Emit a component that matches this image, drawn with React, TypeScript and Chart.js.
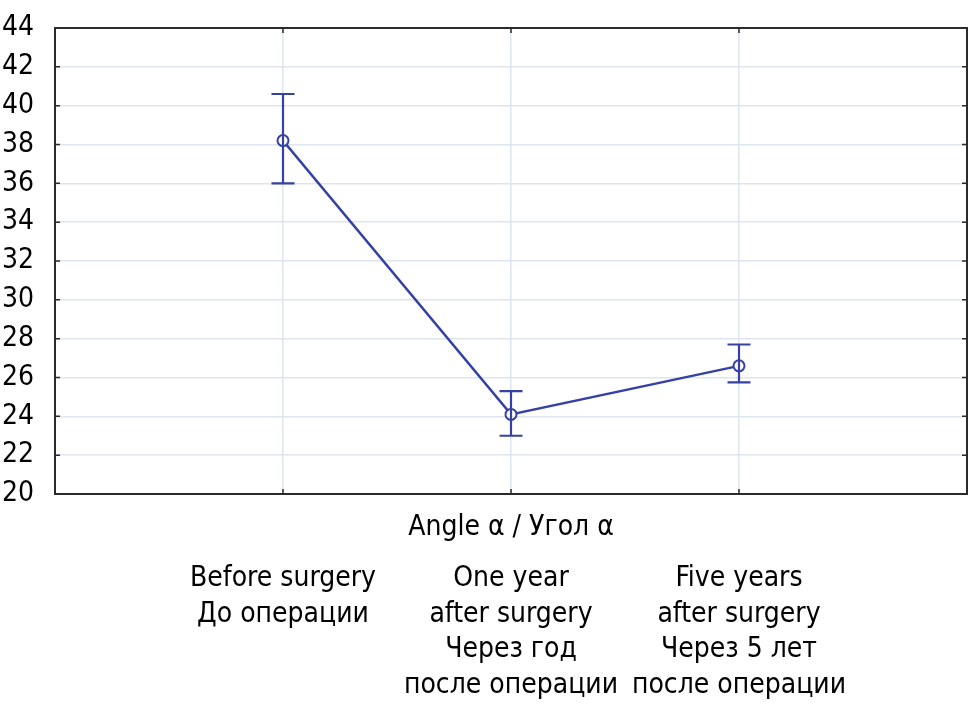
import React, { useEffect, useRef } from "react";
import { Chart, registerables } from "chart.js";

Chart.register(...registerables);

const categories: string[][] = [
  ["Before surgery", "До операции"],
  ["One year", "after surgery", "Через год", "после операции"],
  ["Five years", "after surgery", "Через 5 лет", "после операции"],
];
const categoryPositions = [1, 2, 3];
const means = [38.2, 24.1, 26.6];
const lower = [36.0, 23.0, 25.75];
const upper = [40.6, 25.3, 27.7];
const yTicks = [20, 22, 24, 26, 28, 30, 32, 34, 36, 38, 40, 42, 44];
const axisTitle = "Angle α / Угол α";

const FONT = '"DejaVu Sans Condensed", "DejaVu Sans", sans-serif';
const BLUE = "#3541a3";

export default function App() {
  const ref = useRef<HTMLCanvasElement | null>(null);
  useEffect(() => {
    if (!ref.current) return;
    const extras = {
      id: "extras",
      beforeDatasetsDraw(chart: any) {
        const { ctx, chartArea: a } = chart;
        const ys = chart.scales.y;
        const xs = chart.scales.x;
        ctx.save();
        ctx.strokeStyle = "#2b2b2b";
        ctx.lineWidth = 2;
        ctx.strokeRect(a.left, a.top, a.right - a.left, a.bottom - a.top);
        ctx.lineWidth = 1.5;
        ctx.beginPath();
        yTicks.forEach((v) => {
          const y = ys.getPixelForValue(v);
          ctx.moveTo(a.left, y);
          ctx.lineTo(a.left + 5, y);
          ctx.moveTo(a.right, y);
          ctx.lineTo(a.right - 5, y);
        });
        categoryPositions.forEach((v) => {
          const x = xs.getPixelForValue(v);
          ctx.moveTo(x, a.top);
          ctx.lineTo(x, a.top + 5);
          ctx.moveTo(x, a.bottom);
          ctx.lineTo(x, a.bottom - 5);
        });
        ctx.stroke();
        ctx.restore();
      },
      afterDatasetsDraw(chart: any) {
        const { ctx, chartArea: a } = chart;
        const ys = chart.scales.y;
        const xs = chart.scales.x;
        ctx.save();
        ctx.strokeStyle = BLUE;
        ctx.lineWidth = 2.2;
        ctx.beginPath();
        categoryPositions.forEach((v, i) => {
          const x = xs.getPixelForValue(v);
          const yl = ys.getPixelForValue(lower[i]);
          const yu = ys.getPixelForValue(upper[i]);
          ctx.moveTo(x, yl);
          ctx.lineTo(x, yu);
          ctx.moveTo(x - 11.5, yl);
          ctx.lineTo(x + 11.5, yl);
          ctx.moveTo(x - 11.5, yu);
          ctx.lineTo(x + 11.5, yu);
        });
        ctx.stroke();
        ctx.fillStyle = "#000";
        ctx.font = `28px ${FONT}`;
        ctx.textAlign = "center";
        ctx.textBaseline = "alphabetic";
        ctx.fillText(axisTitle, (a.left + a.right) / 2, a.bottom + 41);
        ctx.restore();
      },
    };
    const chart = new Chart(ref.current, {
      type: "line",
      data: {
        datasets: [
          {
            data: categoryPositions.map((x, i) => ({ x, y: means[i] })),
            borderColor: BLUE,
            borderWidth: 2.4,
            pointRadius: 5.5,
            pointBorderWidth: 2,
            pointBackgroundColor: "#ffffff",
            pointBorderColor: BLUE,
            tension: 0,
          },
        ],
      },
      options: {
        animation: false,
        responsive: false,
        layout: { autoPadding: false, padding: { top: 28, right: 2, left: 0, bottom: 0 } },
        plugins: { legend: { display: false }, tooltip: { enabled: false } },
        scales: {
          x: {
            type: "linear",
            min: 0,
            max: 4,
            afterBuildTicks: (scale: any) => {
              scale.ticks = categoryPositions.map((v) => ({ value: v }));
            },
            afterFit: (scale: any) => {
              scale.height = 222;
              scale.paddingLeft = 0;
              scale.paddingRight = 0;
            },
            grid: { color: "#dde5ee", lineWidth: 1.5, drawTicks: false },
            border: { display: false },
            ticks: {
              padding: 67,
              autoSkip: false,
              maxRotation: 0,
              color: "#000",
              font: { family: FONT, size: 28, lineHeight: 1.27 },
              callback: (v: any) => categories[categoryPositions.indexOf(Number(v))] ?? "",
            },
          },
          y: {
            min: 20,
            max: 44,
            afterBuildTicks: (scale: any) => {
              scale.ticks = yTicks.map((v) => ({ value: v }));
            },
            afterFit: (scale: any) => {
              scale.width = 55;
              scale.paddingTop = 0;
              scale.paddingBottom = 0;
            },
            grid: { color: "#dde5ee", lineWidth: 1.5, drawTicks: false },
            border: { display: false },
            ticks: {
              padding: 21,
              autoSkip: false,
              color: "#000",
              font: { family: FONT, size: 28 },
            },
          },
        },
      },
      plugins: [extras],
    } as any);
    return () => chart.destroy();
  }, []);
  return (
    <div style={{ position: "fixed", left: 0, top: 0, width: 969, height: 716, background: "#fff" }}>
      <canvas ref={ref} width={969} height={716} />
    </div>
  );
}
